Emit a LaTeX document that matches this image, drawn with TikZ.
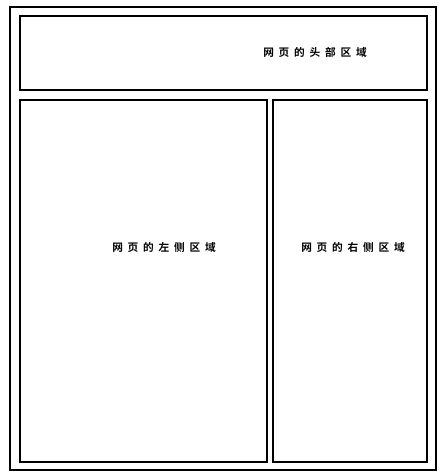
\documentclass[tikz,border=0pt]{standalone}
\usepackage{fontspec}
\newfontfamily\cjk{Noto Sans CJK SC Bold}
\newcommand{\cjkgap}{\hspace{3.6pt}}
\begin{document}
\begin{tikzpicture}[x=0.75pt,y=-0.75pt,
  box/.style={draw=black,line width=2.2pt},
  outerbox/.style={draw=black,line width=1.8pt},
  lbl/.style={font=\cjk\fontsize{8}{10}\selectfont,inner sep=0pt}]
\useasboundingbox (0,0) rectangle (442,476);
\path[fill=white] (0,0) rectangle (442,476);
\draw[outerbox] (10,7) rectangle (436,470);
\draw[box] (20,16) rectangle (427,90);
\draw[box] (20,100) rectangle (267,462);
\draw[box] (273,100) rectangle (427,462);
\node[lbl] (h) at (315,52) {网\cjkgap 页\cjkgap 的\cjkgap 头\cjkgap 部\cjkgap 区\cjkgap 域};
\node[lbl] (l) at (164,247) {网\cjkgap 页\cjkgap 的\cjkgap 左\cjkgap 侧\cjkgap 区\cjkgap 域};
\node[lbl] (r) at (353,247) {网\cjkgap 页\cjkgap 的\cjkgap 右\cjkgap 侧\cjkgap 区\cjkgap 域};
\end{tikzpicture}
\end{document}
